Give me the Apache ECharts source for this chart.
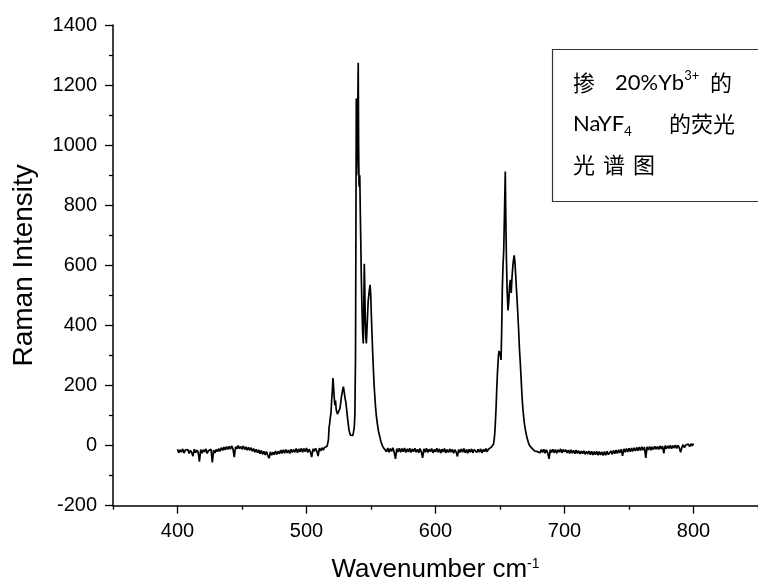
<!DOCTYPE html>
<html><head><meta charset="utf-8">
<script src="https://cdn.jsdelivr.net/npm/echarts@6/dist/echarts.min.js"></script>
<style>html,body{margin:0;padding:0;background:#fff}#c{width:758px;height:588px}</style>
</head><body><div id="c"></div>
<script>
const wavenumber = [
400,401,402,403,404,405,406,407,408,409,
410,411,412,413,414,415,416,417,418,419,
420,421,422,423,424,425,426,427,428,429,
430,431,432,433,434,435,436,437,438,439,
440,441,442,443,444,445,446,447,448,449,
450,451,452,453,454,455,456,457,458,459,
460,461,462,463,464,465,466,467,468,469,
470,471,472,473,474,475,476,477,478,479,
480,481,482,483,484,485,486,487,488,489,
490,491,492,493,494,495,496,497,498,499,
500,501,502,503,504,505,506,507,508,509,
510,511,512,513,514,515,516,
517,517.5,518,518.5,519,519.5,520,520.5,521,521.5,
522,522.5,523,523.5,524,524.5,525,526,527,528,
528.6,529,529.5,530,530.5,531,532,533,534,535,
536,537,537.5,538,538.3,538.6,538.9,539.2,539.5,539.8,
540.1,540.4,540.7,541,541.3,541.7,542,542.5,543,543.5,
544,544.4,544.8,545.2,545.6,546,546.4,546.8,547.3,547.8,
548.3,548.8,549.3,549.8,550.3,550.8,551.3,551.8,552.3,552.8,
553.5,554.2,555,555.8,556.8,557.8,558.8,559.8,
561,562,563,564,565,566,567,568,569,570,
571,572,573,574,575,576,577,578,579,580,
581,582,583,584,585,586,587,588,589,590,
591,592,593,594,595,596,597,598,599,600,
601,602,603,604,605,606,607,608,609,610,
611,612,613,614,615,616,617,618,619,620,
621,622,623,624,625,626,627,628,629,630,
631,632,633,634,635,636,637,638,639,640,
641,642,643,644,645,
645.5,646,646.4,647,647.5,648,648.3,648.8,649.3,649.8,
650.3,650.8,651.3,651.8,652.3,652.9,653.5,654.1,654.5,655,
655.5,656.2,656.8,657.4,658,658.7,659.3,660,660.5,661,
661.5,662,662.5,663.1,663.8,664.5,665.1,665.6,666.3,667,
667.6,668.3,669,670,671,672,673,674,675,676,
677,678,679,680,
681,682,683,684,685,686,687,688,689,690,
691,692,693,694,695,696,697,698,699,700,
701,702,703,704,705,706,707,708,709,710,
711,712,713,714,715,716,717,718,719,720,
721,722,723,724,725,726,727,728,729,730,
731,732,733,734,735,736,737,738,739,740,
741,742,743,744,745,746,747,748,749,750,
751,752,753,754,755,756,757,758,759,760,
761,762,763,764,765,766,767,768,769,770,
771,772,773,774,775,776,777,778,779,780,
781,782,783,784,785,786,787,788,789,790,
791,792,793,794,795,796,797,798,799,800
];
const intensity = [
-12,-24,-14,-22,-11,-25,-15,-21,-13,-26,
-16,-23,-35,-12,-24,-15,-22,-53,-13,-25,
-14,-21,-11,-26,-17,-23,-12,-56,-15,-24,
-13,-20,-10,-19,-7,-16,-5,-14,-3,-13,
-2,-12,-1,-11,-38,-4,-11,0,-10,-3,
-12,-1,-13,-4,-15,-6,-16,-7,-19,-10,
-22,-12,-24,-14,-27,-16,-29,-19,-31,-20,
-33,-42,-21,-32,-22,-30,-18,-29,-19,-27,
-15,-26,-14,-25,-13,-24,-15,-26,-12,-23,
-13,-22,-10,-24,-11,-21,-9,-22,-10,-20,
-8,-23,-12,-21,-38,-11,-19,-9,-18,-35,
-8,-18,-7,-15,-6,-12,-2,
20,60,75,95,110,150,180,225,195,160,
135,150,120,112,105,100,110,125,160,185,
196,185,170,155,145,125,85,50,35,30,
34,60,100,300,700,1155,900,950,1050,1150,
1274,1000,870,860,900,780,700,560,460,380,
340,450,605,520,410,360,340,380,430,480,
500,520,535,500,430,370,310,260,210,175,
130,97,70,48,30,12,0,-8,
-9,-20,-8,-22,-10,-19,-7,-23,-44,-10,
-21,-9,-22,-10,-20,-8,-23,-11,-21,-9,
-23,-11,-20,-9,-22,-12,-24,-10,-21,-41,
-11,-22,-9,-23,-12,-20,-10,-24,-13,-21,
-9,-22,-11,-25,-12,-21,-10,-24,-13,-23,
-11,-22,-12,-25,-14,-21,-36,-13,-23,-11,
-22,-10,-24,-13,-25,-12,-22,-11,-24,-13,
-10,-23,-12,-22,-11,-24,-13,-20,-10,-21,
-12,-18,-6,-10,5,
20,45,75,130,190,240,263,300,315,319,
300,285,380,520,596,650,780,912,760,620,
520,450,480,530,552,508,560,600,620,633,
615,580,540,496,440,380,320,285,230,170,
130,97,70,45,25,10,0,-5,-10,-14,
-18,-15,-20,-17,
-24,-13,-23,-12,-25,-14,-24,-44,-13,-23,
-12,-24,-13,-25,-14,-22,-11,-24,-13,-21,
-14,-24,-15,-26,-14,-25,-16,-27,-15,-26,
-17,-28,-18,-27,-17,-29,-19,-28,-18,-30,
-19,-31,-20,-30,-19,-32,-20,-31,-21,-33,
-20,-32,-19,-30,-35,-18,-29,-16,-27,-15,
-26,-14,-24,-12,-34,-11,-22,-10,-21,-9,
-20,-8,-19,-7,-18,-6,-17,-5,-16,-4,
-15,-5,-41,-4,-14,-3,-15,-4,-13,-2,
-12,-3,-13,-1,-11,-2,-26,0,-10,-1,
-9,1,-10,0,-8,2,-9,1,-7,-22,
-6,3,-7,2,-4,5,-3,6,-1,7
];
const xMajorTicks = [400, 500, 600, 700, 800];
const xMinorTicks = [350, 450, 550, 650, 750, 850];
const xTitle = 'Wavenumber cm{sup|-1}';
const yTitle = 'Raman Intensity';

const FONT = '"Liberation Sans", Arial, sans-serif';
const CJK = '"Noto Sans CJK SC", sans-serif';
const LAT = 'Lato, "Noto Sans", sans-serif';
const chart = echarts.init(document.getElementById('c'));
const data = wavenumber.map((w, i) => [w, intensity[i]]);
const tickStyle = {color: '#000', width: 1.3};
const txt = (x, y, text, rich) => ({
  type: 'text', z: 11, x: x, y: y,
  style: {text: text, fontFamily: CJK, fontSize: 22, lineHeight: 28, fill: '#000',
    verticalAlign: 'middle', rich: rich || {}}
});
const latRich = {
  lat: {fontFamily: LAT, fontSize: 22, lineHeight: 28, fill: '#000'},
  sup: {fontFamily: LAT, fontSize: 13, fill: '#000', verticalAlign: 'top'},
  sub: {fontFamily: LAT, fontSize: 13, fill: '#000', verticalAlign: 'bottom'}
};
chart.setOption({
  animation: false,
  backgroundColor: '#fff',
  grid: {left: 113, top: 25, width: 650.5, height: 480.7, containLabel: false},
  xAxis: [{
    type: 'value', min: 350, max: 850, interval: 50, position: 'bottom',
    name: xTitle, nameLocation: 'middle', nameGap: 51,
    nameTextStyle: {fontFamily: FONT, fontSize: 26, color: '#000',
      rich: {sup: {fontFamily: FONT, fontSize: 14, color: '#000', verticalAlign: 'top'}}},
    axisLine: {onZero: false, lineStyle: {color: '#000', width: 1.5}},
    axisTick: {show: true, length: 8, customValues: xMajorTicks, lineStyle: tickStyle},
    axisLabel: {customValues: xMajorTicks, fontFamily: FONT, fontSize: 20, color: '#000', margin: 16},
    splitLine: {show: false}
  }, {
    type: 'value', min: 350, max: 850, interval: 50, position: 'bottom', offset: 0,
    axisLine: {show: false, onZero: false},
    axisTick: {show: true, length: 4, customValues: xMinorTicks, lineStyle: tickStyle},
    axisLabel: {show: false},
    splitLine: {show: false}
  }],
  yAxis: {
    type: 'value', min: -200, max: 1400, interval: 200,
    name: yTitle, nameLocation: 'middle', nameGap: 75, nameRotate: 90,
    nameTextStyle: {fontFamily: FONT, fontSize: 28, color: '#000'},
    axisLine: {show: true, lineStyle: {color: '#000', width: 1.5}},
    axisTick: {show: true, length: 8, lineStyle: tickStyle},
    minorTick: {show: true, splitNumber: 2, length: 4, lineStyle: tickStyle},
    axisLabel: {fontFamily: FONT, fontSize: 20, color: '#000', margin: 16,
      formatter: v => String(v)},
    splitLine: {show: false}
  },
  series: [{
    type: 'line', data: data, xAxisIndex: 0, yAxisIndex: 0,
    showSymbol: false, symbol: 'none',
    lineStyle: {color: '#000', width: 1.7}
  }],
  graphic: [
    {type: 'rect', z: 10, shape: {x: 552.5, y: 49.5, width: 240, height: 152},
      style: {fill: '#fff', stroke: '#333', lineWidth: 1.2}},
    txt(573, 83, '掺'),
    txt(615, 83, '{lat|20%Yb}{sup|3+}', latRich),
    txt(710, 83, '的'),
    txt(573, 124, '{lat|NaYF}{sub|4}', latRich),
    txt(669, 124, '的荧光'),
    txt(573, 165, '光'),
    txt(603, 165, '谱'),
    txt(633, 165, '图')
  ]
});
</script>
</body></html>
